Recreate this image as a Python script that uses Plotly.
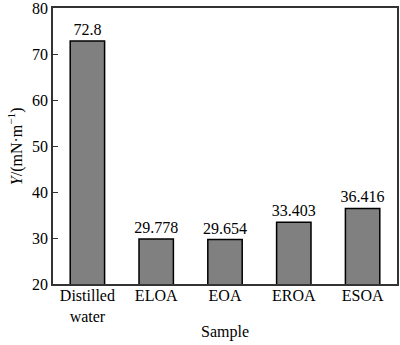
import plotly.graph_objects as go

categories = ["Distilled<br>water", "ELOA", "EOA", "EROA", "ESOA"]
values = [72.8, 29.778, 29.654, 33.403, 36.416]
labels = ["72.8", "29.778", "29.654", "33.403", "36.416"]
y_ticks = [20, 30, 40, 50, 60, 70, 80]

font_family = "Liberation Serif"

fig = go.Figure(go.Bar(
    x=categories,
    y=values,
    base=0,
    width=0.5,
    text=labels,
    textposition="outside",
    constraintext="none",
    cliponaxis=False,
    textfont=dict(family=font_family, size=16, color="black"),
    marker=dict(color="#808080", line=dict(color="black", width=1.5)),
))

fig.update_layout(
    width=400, height=345,
    margin=dict(l=53, r=3, t=8, b=61),
    paper_bgcolor="white",
    plot_bgcolor="white",
    font=dict(family=font_family, size=16, color="black"),
    showlegend=False,
    annotations=[
        dict(text="Sample", xref="paper", yref="paper", x=0.5, y=-0.135,
             yanchor="top", xanchor="center", showarrow=False,
             font=dict(family=font_family, size=16)),
        dict(text="<i>Y</i>/(mN·m<sup>−1</sup>)", xref="paper", yref="paper",
             x=-0.11, y=0.5, xanchor="center", yanchor="middle", textangle=-90,
             showarrow=False, font=dict(family=font_family, size=16)),
    ],
)
fig.update_xaxes(
    range=[-0.5, 4.5],
    showline=True, linecolor="#333", linewidth=1.5, mirror=True,
    ticks="", showgrid=False, automargin=False,
    ticklabelstandoff=-4,
    tickfont=dict(family=font_family, size=16),
)
fig.update_yaxes(
    range=[20, 80],
    tickvals=y_ticks,
    showline=True, linecolor="#333", linewidth=1.5, mirror=True,
    ticks="inside", ticklen=5, tickcolor="#333",
    showgrid=False, zeroline=False, automargin=False,
    ticklabeloverflow="allow",
    tickfont=dict(family=font_family, size=16),
)

fig.write_html("out.html", config={"displayModeBar": False},
               post_script="document.body.style.margin='0';")
